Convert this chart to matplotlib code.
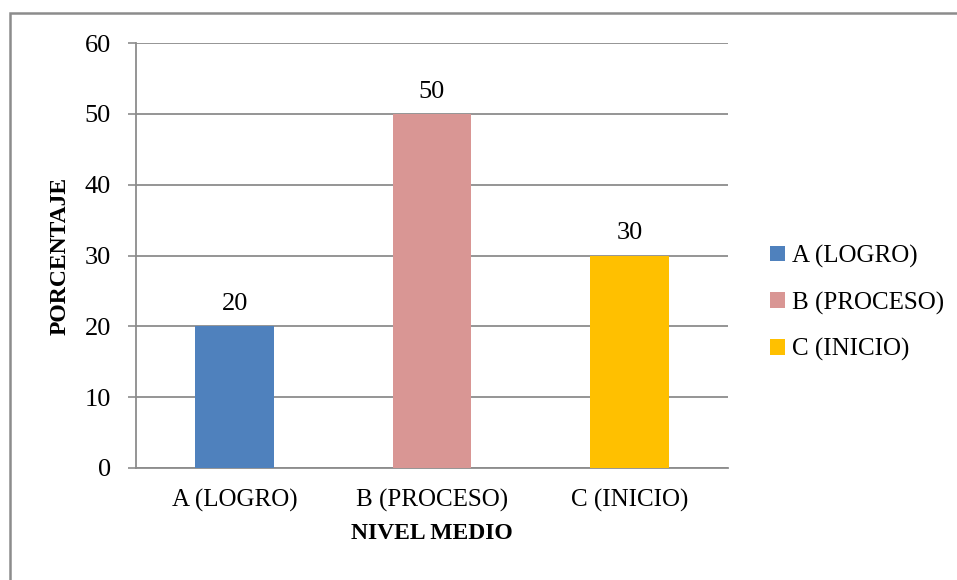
import matplotlib
matplotlib.use("Agg")
import matplotlib.pyplot as plt
from matplotlib.patches import Rectangle, Patch

categories = ["A (LOGRO)", "B (PROCESO)", "C (INICIO)"]
values = [20, 50, 30]
colors = ["#4F81BD", "#D99694", "#FFC000"]
yticks = [0, 10, 20, 30, 40, 50, 60]

plt.rcParams["font.family"] = ["Liberation Serif", "DejaVu Serif"]
W, H = 957, 580
fig = plt.figure(figsize=(W / 100, H / 100), dpi=100)

# frame around chart area (only top and left edges fall inside the image)
fig.patches.append(Rectangle((10 / W, -0.1), 1.2, 1 - 13.5 / H + 0.1,
                             transform=fig.transFigure, fill=False,
                             edgecolor="#8c8c8c", linewidth=1.8))

ax = fig.add_axes([136 / W, 1 - 468 / H, (728 - 136) / W, (468 - 43) / H])
x = range(len(categories))
bars = ax.bar(x, values, width=0.4, color=colors, zorder=3)
for b, v in zip(bars, values):
    ax.annotate(f"{v}", (b.get_x() + b.get_width() / 2, v),
                xytext=(0, 8), textcoords="offset points",
                ha="center", va="bottom", fontsize=19)

ax.set_xlim(-0.5, 2.5)
ax.set_ylim(0, 60)
ax.set_yticks(yticks)
ax.set_xticks(list(x))
ax.set_xticklabels(categories, fontsize=18)
ax.tick_params(axis="y", labelsize=19, length=6, width=1.2, color="#8c8c8c", pad=12)
ax.tick_params(axis="x", length=0, pad=15)
ax.grid(axis="y", color="#8c8c8c", linewidth=1.3, zorder=0)
for s in ["top", "right"]:
    ax.spines[s].set_visible(False)
ax.spines["left"].set_color("#8c8c8c")
ax.spines["left"].set_linewidth(1.3)
ax.spines["bottom"].set_color("#8c8c8c")
ax.spines["bottom"].set_linewidth(1.3)

ax.set_xlabel("NIVEL MEDIO", fontsize=17, fontweight="bold", labelpad=8)
ax.set_ylabel("PORCENTAJE", fontsize=17, fontweight="bold", labelpad=10)

handles = [Patch(facecolor=c, edgecolor="none") for c in colors]
fig.legend(handles, categories, loc="center left",
           bbox_to_anchor=(770 / W, 1 - 303 / H), frameon=False,
           fontsize=18, handlelength=0.6, handleheight=0.6,
           handletextpad=0.3, labelspacing=0.95, borderpad=0,
           borderaxespad=0)

fig.savefig("out.png", dpi=100)
